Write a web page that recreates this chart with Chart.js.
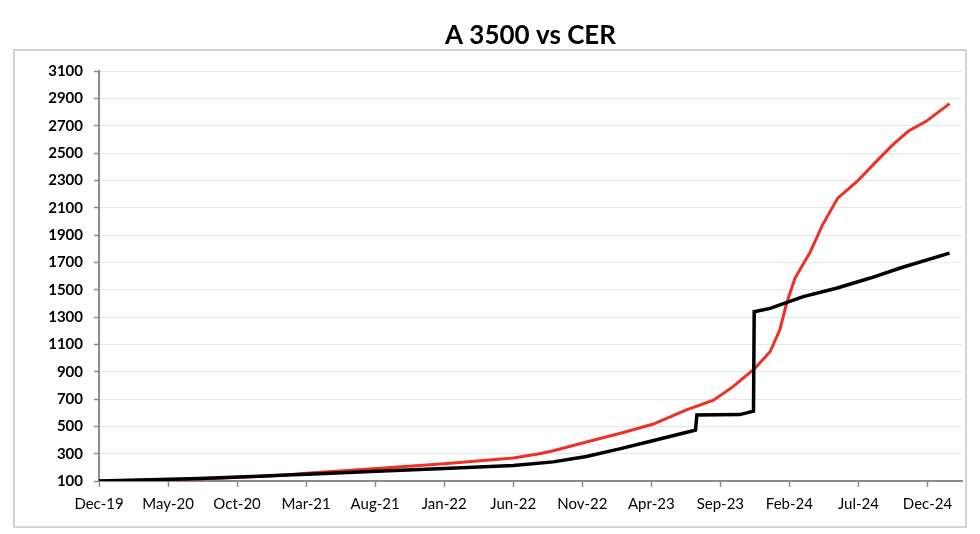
<!DOCTYPE html>
<html>
<head>
<meta charset="utf-8">
<script src="https://cdn.jsdelivr.net/npm/chart.js@4.4.1/dist/chart.umd.min.js"></script>
<style>
  html, body { margin: 0; padding: 0; background: #fff; }
  #wrap { width: 980px; height: 534px; position: relative; }
</style>
</head>
<body>
<div id="wrap"><canvas id="chart" width="980" height="534"></canvas></div>
<script>
// Chart data (x = months since Dec-19)
const chartTitle = 'A 3500 vs CER';
const tickLabels = ['Dec-19', 'May-20', 'Oct-20', 'Mar-21', 'Aug-21', 'Jan-22', 'Jun-22',
  'Nov-22', 'Apr-23', 'Sep-23', 'Feb-24', 'Jul-24', 'Dec-24'];

// A 3500 (black)
const a3500Months = [0, 3, 7.3, 12, 13.1, 15.5, 20.1, 25, 30, 32.9, 35.3, 37.7, 40.1, 42.5, 43.2,
  43.3, 46.4, 47.4, 47.45, 48.6, 51, 53.4, 55.8, 58.2, 61.6];
const a3500Values = [100, 107, 118, 137, 142, 151, 171, 191, 214, 240, 280, 335, 395, 455, 472,
  584, 586, 611, 1339, 1364, 1450, 1511, 1584, 1665, 1768];

// CER (red)
const cerMonths = [0, 7.3, 13.1, 15.5, 20.1, 25, 30, 31.9, 32.9, 35.3, 37.7, 40.1, 42.5, 44.5,
  45.9, 47.5, 48.6, 49.3, 49.8, 50.4, 51.5, 52.4, 53.5, 54.9, 56.3, 57.5, 58.6, 59.9, 61.6];
const cerValues = [100, 114, 140, 160, 191, 226, 268, 300, 322, 385, 448, 515, 619, 692,
  789, 924, 1046, 1205, 1401, 1584, 1775, 1975, 2171, 2293, 2440, 2562, 2660, 2733, 2863];

const ctx = document.getElementById('chart').getContext('2d');

// draws the thin outer frame below the title
const framePlugin = {
  id: 'frame',
  beforeDraw(chart) {
    const c = chart.ctx;
    c.save();
    c.fillStyle = '#fff';
    c.fillRect(0, 0, chart.width, chart.height);
    c.strokeStyle = '#c4c4c4';
    c.lineWidth = 1.5;
    c.strokeRect(14, 50, 952, 477);
    c.restore();
  }
};

function toPoints(xs, ys) {
  return xs.map((x, i) => ({ x: x, y: ys[i] }));
}

new Chart(ctx, {
  type: 'line',
  data: {
    datasets: [
      {
        label: 'A 3500',
        data: toPoints(a3500Months, a3500Values),
        borderColor: '#000000',
        borderWidth: 3.5,
        pointRadius: 0,
        tension: 0,
        fill: false,
      },
      {
        label: 'CER',
        data: toPoints(cerMonths, cerValues),
        borderColor: '#ef3024',
        borderWidth: 3,
        pointRadius: 0,
        tension: 0,
        fill: false,
      },
    ],
  },
  options: {
    responsive: false,
    animation: false,
    layout: { padding: { left: 14, right: 18, top: 0, bottom: 0 } },
    scales: {
      x: {
        type: 'linear',
        min: 0,
        max: 62.5,
        ticks: {
          color: '#000',
          padding: 8,
          maxRotation: 0,
          autoSkip: false,
          font: { family: 'Lato', size: 15 },
          callback: (v) => tickLabels[Math.round(v / 5)],
        },
        afterBuildTicks: (axis) => {
          axis.ticks = tickLabels.map((_, i) => ({ value: i * 5 }));
        },
        afterFit: (axis) => { axis.height = 53; },
        grid: { drawOnChartArea: false, tickLength: 6, tickColor: '#8c8c8c', tickWidth: 1.5 },
        border: { color: '#8c8c8c', width: 2 },
      },
      y: {
        min: 100,
        max: 3100,
        ticks: {
          stepSize: 200,
          color: '#000',
          padding: 11,
          font: { family: 'Lato', size: 15, weight: 'bold' },
          callback: (v) => String(v),
        },
        afterFit: (axis) => { axis.width = 85; },
        grid: { color: '#e6e6e6', lineWidth: 1, tickLength: 5, tickColor: '#8c8c8c', tickWidth: 1.5 },
        border: { color: '#8c8c8c', width: 2 },
      },
    },
    plugins: {
      legend: { display: false },
      tooltip: { enabled: false },
      title: {
        display: true,
        text: chartTitle,
        fullSize: false,
        color: '#000',
        font: { family: 'Lato', size: 26, weight: 'bold', lineHeight: 1.2 },
        padding: { top: 20, bottom: 20 },
      },
    },
  },
  plugins: [framePlugin],
});
</script>
</body>
</html>
